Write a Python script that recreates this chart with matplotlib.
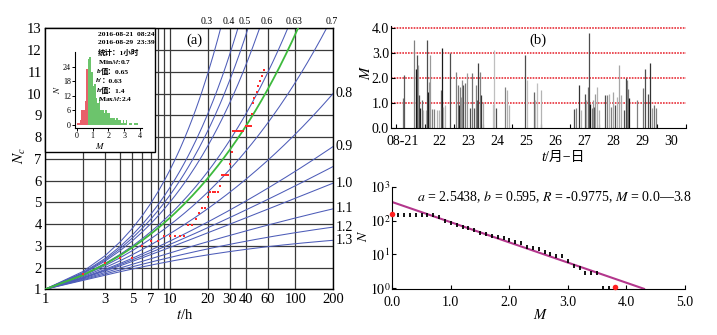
import numpy as np
import matplotlib
matplotlib.use('Agg')
import matplotlib.pyplot as plt
from matplotlib.patches import Rectangle
from matplotlib.ticker import NullLocator, FixedLocator
from matplotlib.transforms import blended_transform_factory

plt.rcParams['font.family'] = ['Liberation Serif', 'Noto Sans CJK SC', 'DejaVu Sans']
plt.rcParams['mathtext.fontset'] = 'stix'

# ---------------- data: panel (a) ----------------
h_blue = [0.3, 0.4, 0.45, 0.5, 0.6, 0.7, 0.8, 0.9, 0.95, 1.0, 1.1, 1.2, 1.3]
h_green = 0.63
top_h_labels = ['0.3', '0.4', '0.5', '0.6', '0.63', '0.7']
right_h_labels = [0.8, 0.9, 1.0, 1.1, 1.2, 1.3]
t_ticks = [1, 3, 5, 7, 10, 20, 30, 40, 60, 100, 200]
t_grid = [1, 2, 3, 4, 5, 6, 7, 8, 9, 10, 20, 30, 40, 60, 100, 200]
obs_t = [2, 3, 4, 5, 6, 7, 8, 9, 10, 11, 12, 13, 14, 15, 16, 17, 18, 19,
         20, 21, 22, 23, 24, 25, 26, 27, 28, 29, 30, 31, 32, 33, 34, 35, 36,
         37, 38, 40, 41, 42, 43, 44, 45, 46, 47, 49, 50, 52, 54, 56]
obs_nc = [1.72, 2.2, 2.45, 2.43, 2.97, 3.2, 3.2, 3.45, 3.45, 3.45, 3.45, 3.45,
          3.96, 3.96, 4.23, 4.49, 4.72, 4.72,
          5.23, 5.49, 5.49, 5.49, 5.49, 5.75,
          6.25, 6.25, 6.25, 6.25, 6.76, 7.3,
          8.29, 8.29, 8.29, 8.29, 8.29, 8.29, 8.29,
          8.52, 8.52, 8.52, 8.52, 8.52,
          9.05, 9.55, 9.8, 10.06, 10.35, 10.58, 10.82, 11.08]

# inset histogram
hist_m = [0.0, 0.1, 0.2, 0.3, 0.4, 0.5, 0.6, 0.7, 0.8, 0.9, 1.0, 1.1, 1.2, 1.3,
          1.4, 1.5, 1.6, 1.7, 1.8, 1.9, 2.0, 2.1, 2.2, 2.3, 2.4, 2.5, 2.6, 2.7,
          2.8, 2.9, 3.0, 3.1, 3.2, 3.3, 3.4, 3.5, 3.6, 3.7, 3.8]
hist_n = [1, 1, 2, 6, 6, 10, 23, 27, 28, 22, 16, 17, 11, 9,
          11, 6, 6, 5, 6, 5, 5, 3, 3, 3, 2, 3, 2, 2,
          1, 2, 1, 2, 0, 1, 1, 0, 1, 1, 1]
min_m = 0.7
inset_lines = ['2016-08-21  08:24', '2016-08-29  23:39']

# ---------------- data: panel (b) ----------------
ev_day = [21.25, 21.29, 21.63, 21.68, 21.71, 21.75, 21.79, 21.83, 21.89, 21.94,
          22.02, 22.08, 22.11, 22.15, 22.17, 22.25, 22.32, 22.42, 22.48, 22.54,
          22.58, 22.63, 22.69, 22.86, 23.06, 23.13, 23.17, 23.21, 23.24, 23.29,
          23.32, 23.38, 23.46, 23.55, 23.63, 23.70, 23.75, 23.80, 23.84, 23.90,
          23.92, 23.99, 24.36, 24.39, 24.44, 24.76, 24.82, 24.91, 25.46, 25.51,
          25.76, 25.79, 25.85, 26.00,
          27.15, 27.20, 27.31, 27.37, 27.52, 27.55, 27.61, 27.66, 27.69, 27.75,
          27.78, 27.83, 27.87, 27.92, 28.01, 28.21, 28.26, 28.36, 28.40, 28.49,
          28.55, 28.61, 28.69, 28.75, 28.86, 28.92, 28.95, 29.01, 29.05, 29.30,
          29.53, 29.59, 29.70, 29.76, 29.84, 29.90, 29.98]
ev_mag = [1.2, 2.1, 3.5, 2.35, 2.9, 2.5, 1.3, 0.8, 1.1, 0.7,
          0.7, 3.5, 1.45, 1.85, 2.9, 0.75, 0.75, 0.7, 0.7, 1.5,
          3.2, 0.85, 0.9, 3.0, 2.25, 1.7, 0.9, 1.65, 1.25, 1.9,
          1.7, 1.8, 2.2, 0.8, 2.2, 0.8, 1.7, 1.1, 2.6, 2.25,
          1.3, 1.05, 0.95, 3.1, 0.8, 1.65, 1.5, 0.9, 2.9, 1.9,
          1.45, 1.1, 1.8, 1.5,
          0.75, 0.8, 1.7, 0.7, 1.35, 1.1, 1.65, 3.8, 0.95, 0.8,
          1.1, 0.85, 1.35, 1.65, 0.7, 1.3, 1.3, 1.35, 0.85, 1.45,
          0.9, 1.25, 2.5, 1.3, 0.7, 2.0, 1.9, 1.55, 1.2, 1.1,
          1.6, 2.35, 1.35, 2.6, 0.8, 0.9, 0.8]
ev_gray = [0.45, 0.35, 0.5, 0.05, 0.3, 0.6, 0.3, 0.1, 0.4, 0.7,
           0.7, 0.3, 0.05, 0.6, 0.6, 0.5, 0.5, 0.7, 0.7, 0.4,
           0.1, 0.65, 0.7, 0.3, 0.5, 0.45, 0.1, 0.5, 0.6, 0.55,
           0.3, 0.45, 0.6, 0.3, 0.45, 0.35, 0.5, 0.35, 0.25, 0.5,
           0.2, 0.65, 0.75, 0.75, 0.3, 0.5, 0.7, 0.7, 0.3, 0.75,
           0.4, 0.7, 0.75, 0.7,
           0.3, 0.5, 0.2, 0.7, 0.3, 0.65, 0.45, 0.3, 0.05, 0.45,
           0.6, 0.3, 0.6, 0.7, 0.7, 0.3, 0.5, 0.7, 0.5, 0.65,
           0.3, 0.7, 0.65, 0.65, 0.3, 0.25, 0.5, 0.45, 0.05, 0.5,
           0.45, 0.3, 0.3, 0.2, 0.6, 0.45, 0.5]
day_labels = ['08-21', '22', '23', '24', '25', '26', '27', '28', '29', '30']
m_levels = [1.0, 2.0, 3.0, 4.0]

# ---------------- data: panel (c) ----------------
gr_m = [0.1, 0.2, 0.3, 0.4, 0.5, 0.6, 0.7, 0.8, 0.9, 1.0, 1.1, 1.2, 1.3, 1.4,
        1.5, 1.6, 1.7, 1.8, 1.9, 2.0, 2.1, 2.2, 2.3, 2.4, 2.5, 2.6, 2.7, 2.8,
        2.9, 3.0, 3.1, 3.2, 3.3, 3.4, 3.5, 3.6, 3.7]
gr_n = [145, 145, 145, 145, 145, 145, 141, 126, 100, 83, 72, 66, 62, 51,
        44, 41, 36, 32, 30, 26, 23, 21, 17, 15, 14, 11.5, 10, 8.7,
        8.7, 6.5, 4.7, 4.0, 2.8, 2.8, 2.8, 1.0, 1.0]
end_m = [0.0, 3.8]
end_n = [160, 1.12]
fit_a = 2.5438
fit_b = 0.595
fit_r = -0.9775
fit_m_range = [0.0, 4.3]

# ---------------- figure ----------------
W, H = 717, 335
fig = plt.figure(figsize=(W / 100, H / 100), dpi=100)


def fx(px):
    return px / W


def fy(py):
    return 1 - py / H


def box(l, t, r, b):
    return [fx(l), fy(b), fx(r) - fx(l), fy(t) - fy(b)]


# ======== panel (a) ========
ax = fig.add_axes(box(45, 28.3, 333, 289.3))
ax.set_xscale('log')
ax.set_xlim(1, 200)
ax.set_ylim(1, 13)
for g in t_grid:
    ax.axvline(g, color='#3a3a3a', lw=0.9, zorder=1)
for n in range(1, 14):
    ax.axhline(n, color='#3a3a3a', lw=0.9, zorder=1)

t_int = np.arange(1, 201)
blue = '#4d5cb8'
for h in h_blue:
    ax.plot(t_int, np.cumsum(t_int ** (-h)), color=blue, lw=0.75, zorder=2)
ax.plot(t_int, np.cumsum(t_int ** (-h_green)), color='#3dba3d', lw=1.3, zorder=3)
ax.plot(obs_t, obs_nc, ls='none', marker='s', ms=2.0, mew=0, color='#ff2a2a', zorder=4)

ax.xaxis.set_major_locator(FixedLocator(t_ticks))
ax.xaxis.set_minor_locator(NullLocator())
ax.set_xticklabels([str(t) for t in t_ticks])
ax.set_yticks(range(1, 14))
ax.tick_params(length=0, labelsize=10.5, pad=2.5)
for s in ax.spines.values():
    s.set_linewidth(1.0)

trans_r = blended_transform_factory(ax.transAxes, ax.transData)
for h in right_h_labels:
    val = np.sum(t_int ** (-h))
    ax.text(1.01, val, f'{h:.1f}', transform=trans_r, ha='left', va='center', fontsize=10)
label_x_t = [20, 30, 40, 60, 100, 200]
trans_t = blended_transform_factory(ax.transData, fig.transFigure)
for lab, tx in zip(top_h_labels, label_x_t):
    ax.text(tx * 0.985, fy(22), lab, transform=trans_t, ha='center', va='center', fontsize=7)
fig.text(fx(194), fy(40), '(a)', ha='center', va='center', fontsize=10.5)
fig.text(fx(185), fy(315), '$t$/h', ha='center', va='center', fontsize=10.5)
fig.text(fx(20), fy(156), '$N_c$', ha='center', va='center', fontsize=11, rotation=90)

# inset white box
ax.add_patch(Rectangle((0, (289.3 - 151.7) / 261.0), (155 - 45) / 288.0, 1 - (289.3 - 151.7) / 261.0,
                       transform=ax.transAxes, facecolor='white', edgecolor='black',
                       lw=1.0, zorder=10, clip_on=False))

axi = fig.add_axes(box(75, 51.7, 141.7, 127.7))
axi.set_facecolor('none')
axi.set_xlim(-0.107, 4.107)
axi.set_ylim(-1.11, 30.16)
cols = ['#e8606a' if m < min_m else '#6cc46c' for m in hist_m]
axi.bar(hist_m, hist_n, width=0.1, align='edge', color=cols, lw=0)
axi.spines['top'].set_visible(False)
axi.spines['right'].set_visible(False)
for s in ['left', 'bottom']:
    axi.spines[s].set_linewidth(0.8)
axi.set_xticks([0, 1, 2, 3, 4])
axi.set_yticks([0, 6, 12, 18, 24])
axi.tick_params(direction='out', length=2, width=0.7, labelsize=5.8, pad=1)
fig.text(fx(57), fy(90), '$N$', rotation=90, ha='center', va='center', fontsize=6.5)
fig.text(fx(100), fy(146), '$M$', ha='center', va='center', fontsize=6.5)

tx0 = 97.7
fs_in = 5.4
fig.text(fx(tx0), fy(35), inset_lines[0], ha='left', va='center', fontsize=fs_in, weight='bold')
fig.text(fx(tx0), fy(43), inset_lines[1], ha='left', va='center', fontsize=fs_in, weight='bold')
fig.text(fx(tx0), fy(52.5), '统计：1小时', ha='left', va='center', fontsize=fs_in, weight='bold')
fig.text(fx(tx0), fy(61.7), 'Min$M$:0.7', ha='left', va='center', fontsize=fs_in, weight='bold')
xb = tx0 + 3.2
fig.text(fx(xb), fy(71.5), 'b', ha='right', va='center', fontsize=fs_in, weight='bold', style='italic')
fig.text(fx(xb), fy(71.5), '值：0.65', ha='left', va='center', fontsize=fs_in, weight='bold')
fig.text(fx(xb + 1.2), fy(81), "h'", ha='right', va='center', fontsize=fs_in, weight='bold', style='italic')
fig.text(fx(xb + 1.2), fy(81), '：0.63', ha='left', va='center', fontsize=fs_in, weight='bold')
fig.text(fx(xb), fy(90), 'h', ha='right', va='center', fontsize=fs_in, weight='bold', style='italic')
fig.text(fx(xb), fy(90), '值：1.4', ha='left', va='center', fontsize=fs_in, weight='bold')
fig.text(fx(tx0), fy(99), 'Max$M$:2.4', ha='left', va='center', fontsize=fs_in, weight='bold')

# ======== panel (b) ========
axb = fig.add_axes(box(391, 26, 686, 127.7))
axb.set_xlim(20.83, 31.0)
axb.set_ylim(0, 4.08)
for lv in m_levels:
    axb.axhline(lv, color='#e8303a', ls=(0, (1, 0.7)), lw=1.2, zorder=1)
axb.vlines(ev_day, 0, ev_mag, colors=[str(g) for g in ev_gray], lw=0.9, zorder=2)
axb.spines['top'].set_visible(False)
axb.spines['right'].set_visible(False)
axb.set_yticks([0, 1, 2, 3, 4])
axb.set_yticklabels(['0.0', '1.0', '2.0', '3.0', '4.0'])
axb.xaxis.set_major_locator(FixedLocator(list(range(21, 32))))
axb.xaxis.set_major_formatter(plt.NullFormatter())
lab_pos = [21.25] + [d + 0.5 for d in range(22, 31)]
axb.xaxis.set_minor_locator(FixedLocator(lab_pos))
axb.set_xticklabels(day_labels, minor=True)
axb.tick_params(axis='x', which='minor', length=0, labelsize=10, pad=5)
axb.tick_params(axis='x', which='major', direction='in', length=3, width=0.8)
axb.tick_params(axis='y', direction='in', length=3, width=0.8, labelsize=10, pad=1.5)
fig.text(fx(538), fy(40), '(b)', ha='center', va='center', fontsize=10.5)
fig.text(fx(366), fy(72), '$M$', rotation=90, ha='center', va='center', fontsize=10.5)
fig.text(fx(545), fy(157), 't', ha='right', va='center', fontsize=10.5, style='italic')
fig.text(fx(545), fy(157), '/月−日', ha='left', va='center', fontsize=10)

# ======== panel (c) ========
axc = fig.add_axes(box(392.3, 186.6, 685, 289.0))
axc.set_yscale('log')
axc.set_xlim(0, 5.0)
axc.set_ylim(10 ** (-0.02), 1000)
mm = np.array(fit_m_range)
axc.plot(mm, 10 ** (fit_a - fit_b * mm), color='#b3368c', lw=1.5, zorder=2)
axc.plot(gr_m, gr_n, ls='none', marker='|', ms=3.2, mew=1.3, color='black', zorder=3)
axc.plot(end_m, end_n, ls='none', marker='o', ms=4, mew=0, color='#ff2020', zorder=4, clip_on=False)
axc.spines['top'].set_visible(False)
axc.spines['right'].set_visible(False)
axc.set_xticks([0, 1, 2, 3, 4, 5])
axc.set_xticklabels(['0.0', '1.0', '2.0', '3.0', '4.0', '5.0'])
axc.set_yticks([1, 10, 100, 1000])
axc.set_yticklabels(['$10^0$', '$10^1$', '$10^2$', '$10^3$'])
axc.yaxis.set_minor_locator(NullLocator())
axc.tick_params(direction='in', length=3, width=0.8, labelsize=10)
axc.tick_params(axis='x', pad=5)
axc.tick_params(axis='y', pad=1.5)
fig.text(fx(417), fy(197),
         f'$a$ = {fit_a:.4f}, $b$ = {fit_b:.3f}, $R$ = {fit_r:.4f}, $M$ = {end_m[0]:.1f}\u2014{end_m[1]:.1f}',
         ha='left', va='center', fontsize=10)
fig.text(fx(541), fy(315), '$M$', ha='center', va='center', fontsize=10.5)
fig.text(fx(363), fy(236), '$N$', rotation=90, ha='center', va='center', fontsize=10)

fig.savefig('out.png', dpi=100)
